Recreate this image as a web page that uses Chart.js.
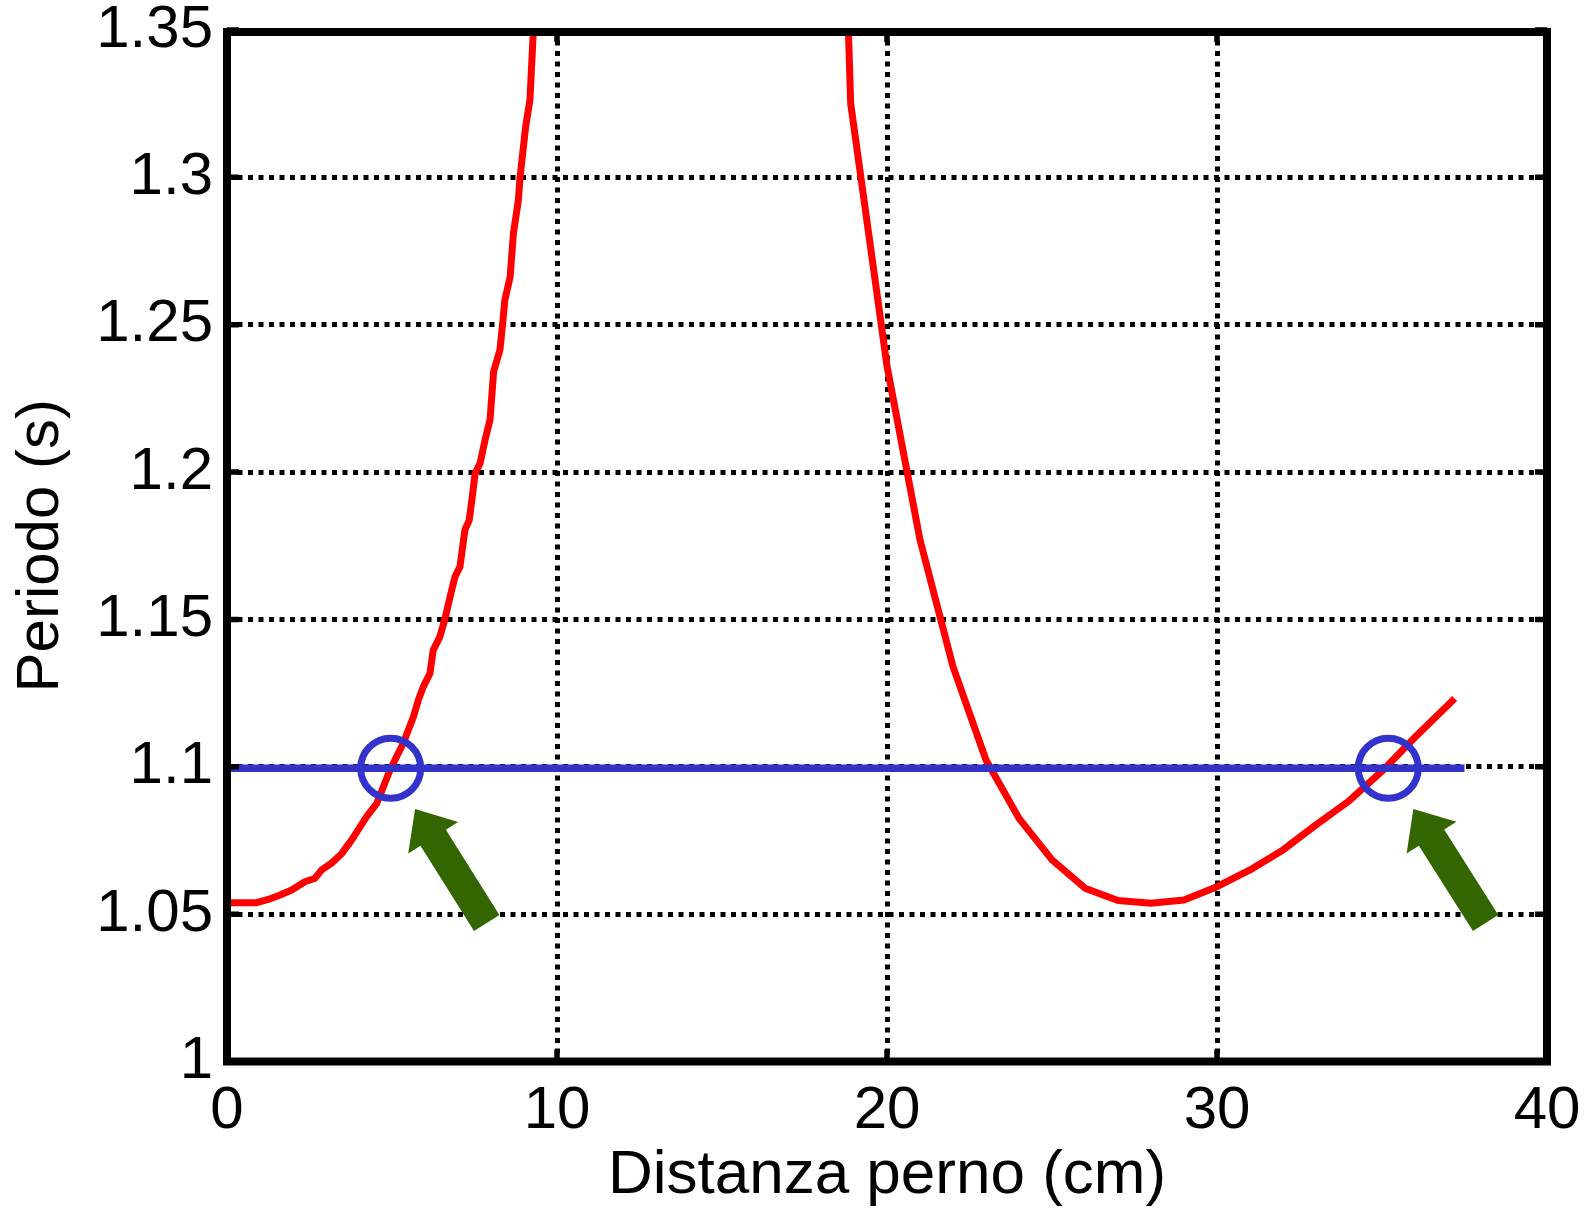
<!DOCTYPE html>
<html>
<head>
<meta charset="utf-8">
<script src="https://cdn.jsdelivr.net/npm/chart.js@4"></script>
<style>
html,body{margin:0;padding:0;background:#ffffff;}
#wrap{width:1589px;height:1213px;position:relative;}
</style>
</head>
<body>
<div id="wrap"><canvas id="c" width="1589" height="1213"></canvas></div>
<script>
// ---- data ----
const leftX  = [0, 0.9, 1.25, 1.61, 1.96, 2.36, 2.67, 2.87, 3.17, 3.48, 3.78, 4.23, 4.54, 4.94, 5.34, 5.65, 5.8, 5.95, 6.15, 6.25, 6.45, 6.61, 6.76, 6.91, 7.06, 7.21, 7.34, 7.42, 7.52, 7.67, 7.82, 7.97, 8.08, 8.27, 8.35, 8.42, 8.58, 8.68, 8.83, 8.88, 9.05, 9.18, 9.28, 9.33];
const leftY  = [1.0539, 1.0539, 1.055, 1.0565, 1.0582, 1.061, 1.0622, 1.065, 1.0673, 1.0706, 1.0752, 1.0831, 1.0876, 1.0989, 1.108, 1.117, 1.1227, 1.1272, 1.1317, 1.1396, 1.1441, 1.1504, 1.1577, 1.1645, 1.1679, 1.1804, 1.1837, 1.1905, 1.1996, 1.203, 1.2109, 1.2177, 1.2341, 1.2414, 1.25, 1.2584, 1.2663, 1.281, 1.2923, 1.3, 1.3172, 1.3263, 1.349, 1.35];
const rightX = [18.83, 18.9, 20, 21, 22, 23, 24, 25, 26, 27, 28, 29, 30, 31, 32, 33, 34, 35, 36, 37, 37.2];
const rightY = [1.35, 1.325, 1.236, 1.177, 1.134, 1.1023, 1.0825, 1.0684, 1.0588, 1.0546, 1.0537, 1.0548, 1.0593, 1.065, 1.0718, 1.0803, 1.0884, 1.0985, 1.11, 1.121, 1.1232];
const blueX = [0, 37.5];
const blueY = [1.0995, 1.0995];
const circleX = [4.96, 35.19];
const circleY = [1.0995, 1.0995];
const arrowTipX = [5.70, 35.95];
const arrowTipY = [1.0857, 1.0857];
const arrowTailX = [7.87, 38.14];
const arrowTailY = [1.047, 1.047];
const xTicks = [0, 10, 20, 30, 40];
const yTicks = [1, 1.05, 1.1, 1.15, 1.2, 1.25, 1.3, 1.35];
const yTickLabels = ['1', '1.05', '1.1', '1.15', '1.2', '1.25', '1.3', '1.35'];
const xTitle = 'Distanza perno (cm)';
const yTitle = 'Periodo (s)';

const pts = (xs, ys) => xs.map((x, i) => ({x: x, y: ys[i]}));
const FONT = "'Liberation Sans', Arial, Helvetica, sans-serif";

const framePlugin = {
  id: 'frameAndArrows',
  afterDatasetsDraw(chart) {
    const ctx = chart.ctx;
    const a = chart.chartArea;
    const xs = chart.scales.x, ys = chart.scales.y;
    ctx.save();
    // inward tick marks
    ctx.strokeStyle = '#000';
    ctx.lineWidth = 5.5;
    const tl = 12;
    xTicks.forEach(v => {
      const px = xs.getPixelForValue(v);
      ctx.beginPath();
      ctx.moveTo(px, a.bottom); ctx.lineTo(px, a.bottom - tl);
      ctx.moveTo(px, a.top); ctx.lineTo(px, a.top + tl);
      ctx.stroke();
    });
    yTicks.forEach(v => {
      const py = ys.getPixelForValue(v);
      ctx.beginPath();
      ctx.moveTo(a.left, py); ctx.lineTo(a.left + tl, py);
      ctx.moveTo(a.right, py); ctx.lineTo(a.right - tl, py);
      ctx.stroke();
    });
    // frame
    ctx.lineWidth = 8;
    ctx.lineJoin = 'miter';
    ctx.strokeRect(a.left, a.top + 2, a.right - a.left, a.bottom - a.top - 2);
    // arrows
    ctx.fillStyle = '#336600';
    const shaftHalf = 15, headHalf = 29.5, headLen = 34;
    for (let i = 0; i < arrowTipX.length; i++) {
      const tx = xs.getPixelForValue(arrowTipX[i]), ty = ys.getPixelForValue(arrowTipY[i]);
      const bx = xs.getPixelForValue(arrowTailX[i]), by = ys.getPixelForValue(arrowTailY[i]);
      const dx = tx - bx, dy = ty - by;
      const len = Math.hypot(dx, dy);
      const ux = dx / len, uy = dy / len;
      const nx = -uy, ny = ux;
      const hx = tx - ux * headLen, hy = ty - uy * headLen;
      ctx.beginPath();
      ctx.moveTo(bx + nx * shaftHalf, by + ny * shaftHalf);
      ctx.lineTo(hx + nx * shaftHalf, hy + ny * shaftHalf);
      ctx.lineTo(hx + nx * headHalf, hy + ny * headHalf);
      ctx.lineTo(tx, ty);
      ctx.lineTo(hx - nx * headHalf, hy - ny * headHalf);
      ctx.lineTo(hx - nx * shaftHalf, hy - ny * shaftHalf);
      ctx.lineTo(bx - nx * shaftHalf, by - ny * shaftHalf);
      ctx.closePath();
      ctx.fill();
    }
    ctx.restore();
  }
};

new Chart(document.getElementById('c'), {
  type: 'scatter',
  data: {
    datasets: [
      {
        label: 'circles', data: pts(circleX, circleY), order: 0,
        showLine: false, pointStyle: 'circle', pointRadius: 30, pointHoverRadius: 30,
        pointBorderWidth: 7, borderColor: '#3333cc', pointBorderColor: '#3333cc',
        backgroundColor: 'rgba(0,0,0,0)', pointBackgroundColor: 'rgba(0,0,0,0)', clip: false
      },
      {
        label: 'blue', data: pts(blueX, blueY), order: 1,
        showLine: true, pointRadius: 0, borderColor: '#3333cc', borderWidth: 7.5,
        borderCapStyle: 'butt', tension: 0
      },
      {
        label: 'left', data: pts(leftX, leftY), order: 2,
        showLine: true, pointRadius: 0, borderColor: '#ff0000', borderWidth: 7,
        borderJoinStyle: 'round', tension: 0
      },
      {
        label: 'right', data: pts(rightX, rightY), order: 3,
        showLine: true, pointRadius: 0, borderColor: '#ff0000', borderWidth: 7,
        borderJoinStyle: 'round', tension: 0
      }
    ]
  },
  options: {
    responsive: false,
    animation: false,
    events: [],
    layout: { autoPadding: false, padding: { left: 0, top: 30, right: 42, bottom: 0 } },
    plugins: { legend: { display: false }, tooltip: { enabled: false } },
    scales: {
      x: {
        type: 'linear', min: 0, max: 40,
        afterBuildTicks: s => { s.ticks = xTicks.map(v => ({value: v})); },
        afterFit: s => { s.height = 151.5; s.paddingLeft = 0; s.paddingRight = 0; },
        grid: { color: '#000', lineWidth: 5, drawTicks: false, drawOnChartArea: true },
        border: { display: false, dash: [5, 5.5] },
        ticks: { color: '#000', padding: 14, font: { family: FONT, size: 60 }, maxRotation: 0 },
        title: { display: true, text: xTitle, color: '#000', font: { family: FONT, size: 62 }, padding: { top: 0, bottom: 0 } }
      },
      y: {
        type: 'linear', min: 1, max: 1.35,
        afterBuildTicks: s => { s.ticks = yTicks.map(v => ({value: v})); },
        afterFit: s => { s.width = 227; s.paddingTop = 0; s.paddingBottom = 0; },
        grid: { color: '#000', lineWidth: 5, drawTicks: false, drawOnChartArea: true },
        border: { display: false, dash: [5, 5.5] },
        ticks: {
          color: '#000', padding: 14, font: { family: FONT, size: 60, lineHeight: 0.8 },
          callback: (v) => { const i = yTicks.findIndex(t => Math.abs(t - v) < 1e-9); return i >= 0 ? yTickLabels[i] : ''; }
        },
        title: { display: true, text: yTitle, color: '#000', font: { family: FONT, size: 60 }, padding: { top: 5, bottom: 0 } }
      }
    }
  },
  plugins: [framePlugin]
});
</script>
</body>
</html>
